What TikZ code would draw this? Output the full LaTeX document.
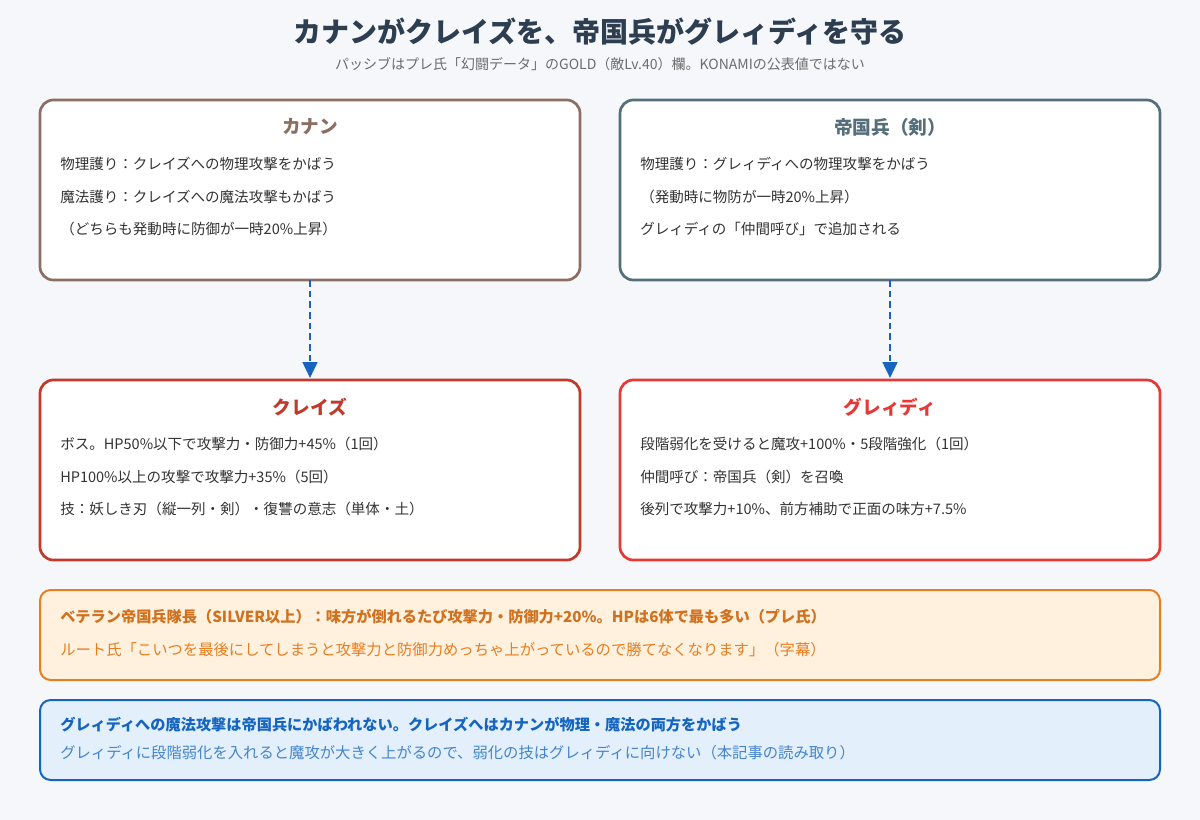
\documentclass[tikz,border=0pt]{standalone}
\usepackage{fontspec}
\setmainfont{Noto Sans CJK JP}
\usetikzlibrary{arrows.meta}
\definecolor{bg}{HTML}{F5F7FA}
\definecolor{ink}{HTML}{2C3E50}
\definecolor{body}{HTML}{333333}
\begin{document}
\begin{tikzpicture}[x=0.75pt,y=-0.75pt,
 box/.style={draw=#1,line width=2pt,rounded corners=10pt,fill=white},
 ttl/.style={font=\fontsize{14}{16}\selectfont\bfseries,anchor=center},
 ln/.style={font=\fontsize{10.9}{13}\selectfont,anchor=west,text=body,inner sep=0pt},
 lb/.style={font=\fontsize{11.5}{13}\selectfont,anchor=west,inner sep=0pt},
 lbb/.style={font=\fontsize{11.4}{13}\selectfont\bfseries,anchor=west,inner sep=0pt},
 arr/.style={draw={rgb,255:red,21;green,101;blue,192},line width=2pt,dash pattern=on 5pt off 3pt,-{Triangle[length=12pt,width=11pt]}}]
\fill[bg] (0,0) rectangle (1200,820);
\useasboundingbox (0,0) rectangle (1200,820);
\node[font=\fontsize{21}{24}\selectfont\bfseries,text=ink] (title) at (600,32) {カナンがクレイズを、帝国兵がグレィディを守る};
\node[font=\fontsize{10.5}{12}\selectfont,text=gray!85!black] (sub) at (600,64) {パッシブはプレ氏「幻闘データ」のGOLD（敵Lv.40）欄。KONAMIの公表値ではない};
\definecolor{kan}{HTML}{8D6E63}\definecolor{tei}{HTML}{546E7A}
\definecolor{cr}{HTML}{C0392B}\definecolor{gr}{HTML}{E53935}
\draw[box=kan] (40,100) rectangle (580,280);
\node[coordinate] (kanan) at (310,280) {};
\node[ttl,text=kan] (kt) at (310,127) {カナン};
\node[ln] (k1) at (60,164) {物理護り：クレイズへの物理攻撃をかばう};
\node[ln] (k2) at (60,197) {魔法護り：クレイズへの魔法攻撃もかばう};
\node[ln] (k3) at (60,229) {（どちらも発動時に防御が一時20\%上昇）};
\draw[box=tei] (620,100) rectangle (1160,280);
\node[coordinate] (tei) at (890,280) {};
\node[ttl,text=tei] (tt) at (890,127) {帝国兵（剣）};
\node[ln] (t1) at (640,164) {物理護り：グレィディへの物理攻撃をかばう};
\node[ln] (t2) at (640,197) {（発動時に物防が一時20\%上昇）};
\node[ln] (t3) at (640,229) {グレィディの「仲間呼び」で追加される};
\draw[box=cr] (40,380) rectangle (580,560);
\node[coordinate] (crays) at (310,378) {};
\node[ttl,text=cr] (ct) at (310,407) {クレイズ};
\node[ln] (c1) at (60,444) {ボス。HP50\%以下で攻撃力・防御力+45\%（1回）};
\node[ln] (c2) at (60,477) {HP100\%以上の攻撃で攻撃力+35\%（5回）};
\node[ln] (c3) at (60,509) {技：妖しき刃（縦一列・剣）・復讐の意志（単体・土）};
\draw[box=gr] (620,380) rectangle (1160,560);
\node[coordinate] (grd) at (890,378) {};
\node[ttl,text=gr] (gt) at (890,407) {グレィディ};
\node[ln] (g1) at (640,444) {段階弱化を受けると魔攻+100\%・5段階強化（1回）};
\node[ln] (g2) at (640,477) {仲間呼び：帝国兵（剣）を召喚};
\node[ln] (g3) at (640,509) {後列で攻撃力+10\%、前方補助で正面の味方+7.5\%};
\draw[arr] (kanan) -- (crays);
\draw[arr] (tei) -- (grd);
\definecolor{or}{HTML}{E67E22}\definecolor{orf}{HTML}{FFF1DD}
\draw[draw=or,line width=1.5pt,rounded corners=8pt,fill=orf] (40,590) rectangle (1160,680);
\node[lbb,text=or!90!black] (o1) at (60,617) {ベテラン帝国兵隊長（SILVER以上）：味方が倒れるたび攻撃力・防御力+20\%。HPは6体で最も多い（プレ氏）};
\node[lb,text=or] (o2) at (60,650) {ルート氏「こいつを最後にしてしまうと攻撃力と防御力めっちゃ上がっているので勝てなくなります」（字幕）};
\definecolor{bl}{HTML}{1565C0}\definecolor{blf}{HTML}{E3F0FC}
\draw[draw=bl,line width=1.5pt,rounded corners=8pt,fill=blf] (40,700) rectangle (1160,780);
\node[lbb,text=bl] (b1) at (60,725) {グレィディへの魔法攻撃は帝国兵にかばわれない。クレイズへはカナンが物理・魔法の両方をかばう};
\node[lb,text=bl!80!white] (b2) at (60,753) {グレィディに段階弱化を入れると魔攻が大きく上がるので、弱化の技はグレィディに向けない（本記事の読み取り）};
\end{tikzpicture}
\end{document}
